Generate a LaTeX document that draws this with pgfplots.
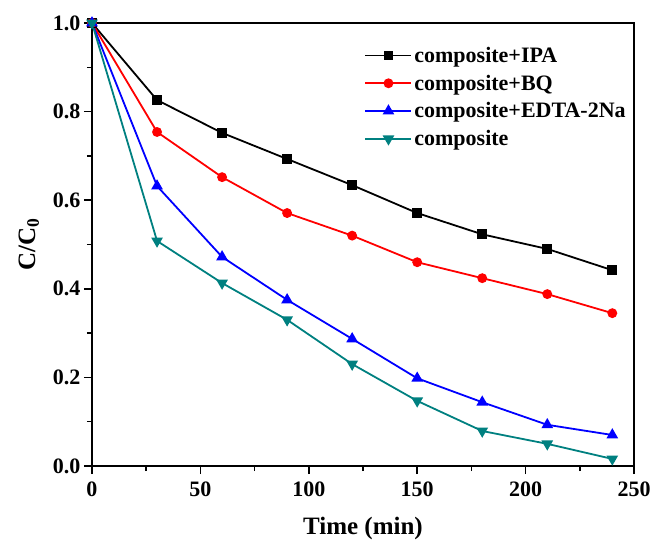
\documentclass[border=0pt]{standalone}
\usepackage{fontspec}
\setmainfont{Liberation Serif}
\usepackage{pgfplots}
\pgfplotsset{compat=1.18}
\definecolor{cTeal}{RGB}{0,128,128}
\begin{document}
\begin{tikzpicture}
\useasboundingbox (-92pt,-75pt) rectangle (559pt,466pt);
\begin{axis}[
  at={(0,0)}, anchor=south west,
  scale only axis, width=542pt, height=443pt,
  xmin=0, xmax=250, ymin=0, ymax=1.0,
  xtick={0,50,...,250}, ytick={0,0.2,...,1.0},
  minor x tick num=1, minor y tick num=1,
  tick align=outside, tick pos=left,
  major tick length=8pt, minor tick length=5pt,
  axis line style={line width=1.5pt}, every tick/.style={line width=1.5pt, black},
  font=\bfseries\fontsize{22}{26}\selectfont,
  tick label style={font=\bfseries\fontsize{22}{26}\selectfont},
  xticklabel style={yshift=-4pt},
  /pgf/number format/assume math mode=true,
  yticklabel style={/pgf/number format/.cd, fixed, fixed zerofill, precision=1},
  xlabel={Time (min)}, ylabel={C/C$_{\mathbf{0}}$},
  label style={font=\bfseries\fontsize{25}{30}\selectfont},
  xlabel style={yshift=-14pt},
  ylabel style={yshift=7pt},
  legend style={draw=none, fill=none, at={(0.497,0.955)}, anchor=north west,
    font=\bfseries\fontsize{22}{26}\selectfont, row sep=7pt},
  legend cell align=left,
  legend image code/.code={\draw[mark repeat=2, mark phase=2] plot coordinates {(0pt,0pt) (23pt,0pt) (46pt,0pt)};},
  legend image post style={line width=1.8pt},
  every axis plot/.append style={line width=1.8pt, mark size=4pt},
]
\addplot[black, mark=square*] coordinates {(0,1.0) (30,0.826) (60,0.752) (90,0.693) (120,0.634) (150,0.571) (180,0.523) (210,0.490) (240,0.442)};
\addlegendentry{composite+IPA}
\addplot[red, mark=*] coordinates {(0,1.0) (30,0.754) (60,0.652) (90,0.571) (120,0.520) (150,0.460) (180,0.424) (210,0.388) (240,0.345)};
\addlegendentry{composite+BQ}
\addplot[blue, mark=triangle*, mark size=5pt] coordinates {(0,1.0) (30,0.632) (60,0.472) (90,0.375) (120,0.287) (150,0.198) (180,0.144) (210,0.093) (240,0.070)};
\addlegendentry{composite+EDTA-2Na}
\addplot[cTeal, mark=triangle*, mark options={rotate=180}, mark size=5pt] coordinates {(0,1.0) (30,0.508) (60,0.413) (90,0.330) (120,0.230) (150,0.147) (180,0.079) (210,0.050) (240,0.016)};
\addlegendentry{composite}
\end{axis}
\end{tikzpicture}
\end{document}
